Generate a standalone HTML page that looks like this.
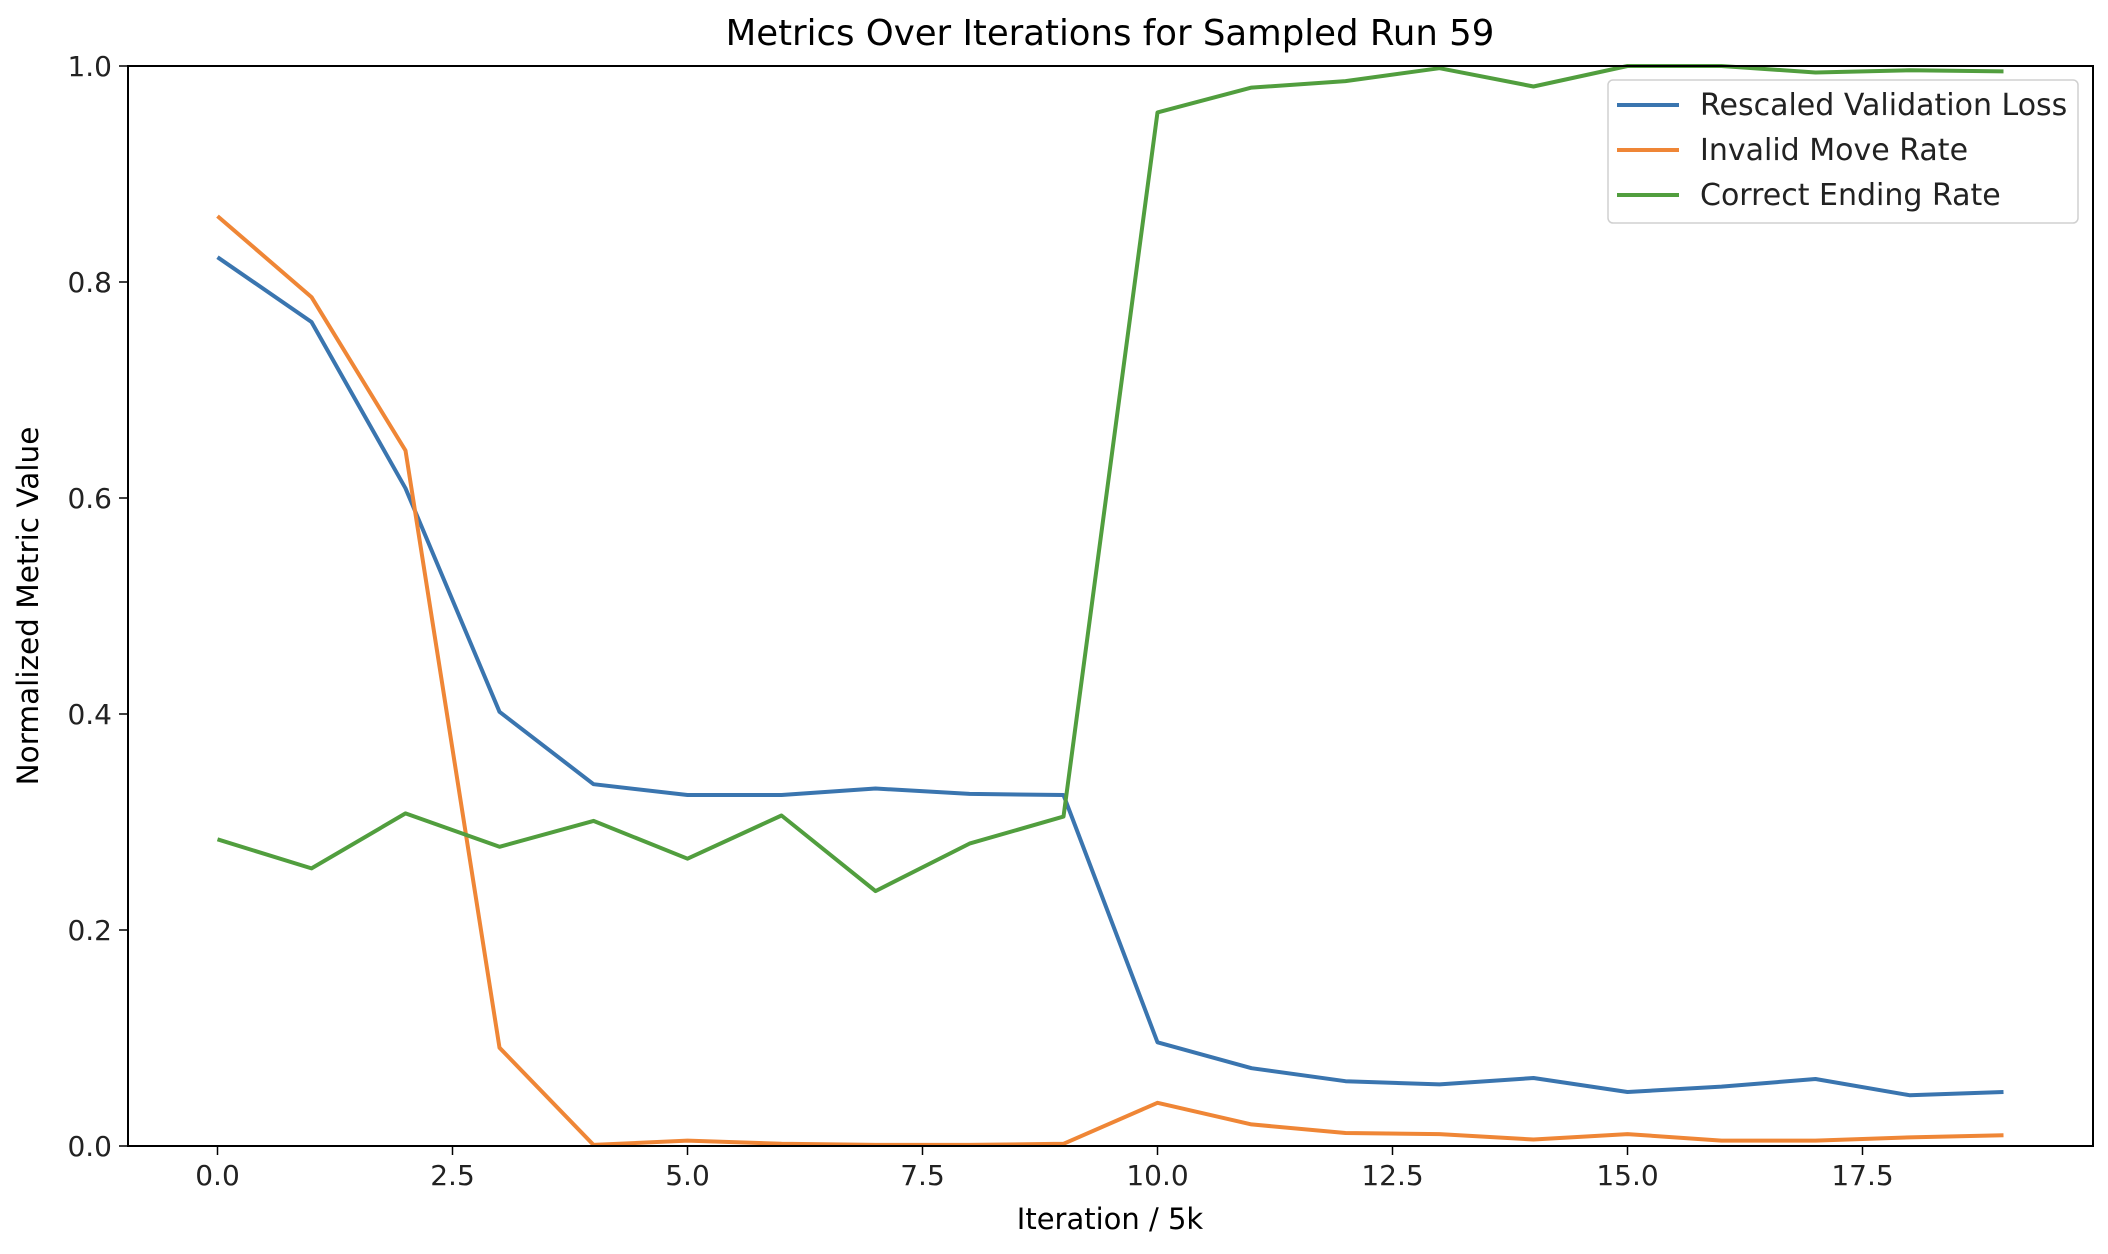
<!DOCTYPE html>
<html><head><meta charset="utf-8">
<style>
html,body{margin:0;padding:0;background:#fff;}
svg{display:block;font-family:"DejaVu Sans","Liberation Sans",sans-serif;}
</style></head>
<body>
<svg id="chart" width="2108" height="1254" viewBox="0 0 2108 1254">
  <text x="1110" y="45" font-size="35.5" text-anchor="middle" fill="#000">Metrics Over Iterations for Sampled Run 59</text>
  <g id="xticks"></g>
  <g id="yticks"></g>
  <g id="lines"></g>
  <rect x="128" y="66" width="1965" height="1080" fill="none" stroke="#000" stroke-width="2"/>
  <text x="1110" y="1229" font-size="29" text-anchor="middle" fill="#000">Iteration / 5k</text>
  <text transform="translate(38,606) rotate(-90)" font-size="29.5" text-anchor="middle" fill="#000">Normalized Metric Value</text>
  <g>
    <rect x="1608" y="80" width="470" height="143" rx="5" fill="#fff" fill-opacity="0.8" stroke="#d0d0d0" stroke-width="1.5"/>
    <line x1="1617" y1="105" x2="1679" y2="105" stroke="#3a75af" stroke-width="4"/>
    <text x="1700" y="115" font-size="30" fill="#222">Rescaled Validation Loss</text>
    <line x1="1617" y1="150" x2="1679" y2="150" stroke="#ef8636" stroke-width="4"/>
    <text x="1700" y="160" font-size="30" fill="#222">Invalid Move Rate</text>
    <line x1="1617" y1="195" x2="1679" y2="195" stroke="#519e3e" stroke-width="4"/>
    <text x="1700" y="205" font-size="30" fill="#222">Correct Ending Rate</text>
  </g>
</svg>
<script>
const iterations = [0,1,2,3,4,5,6,7,8,9,10,11,12,13,14,15,16,17,18,19];
const lossValues = [0.823,0.763,0.609,0.402,0.335,0.325,0.325,0.331,0.326,0.325,0.096,0.072,0.060,0.057,0.063,0.050,0.055,0.062,0.047,0.050];
const invalidValues = [0.861,0.786,0.644,0.091,0.001,0.005,0.002,0.001,0.001,0.002,0.040,0.020,0.012,0.011,0.006,0.011,0.005,0.005,0.008,0.010];
const correctValues = [0.284,0.257,0.308,0.277,0.301,0.266,0.306,0.236,0.280,0.305,0.957,0.980,0.986,0.998,0.981,1.0,1.0,0.994,0.996,0.995];
const xTickValues = [0,2.5,5,7.5,10,12.5,15,17.5];
const xTickLabels = ["0.0","2.5","5.0","7.5","10.0","12.5","15.0","17.5"];
const yTickValues = [0,0.2,0.4,0.6,0.8,1.0];
const yTickLabels = ["0.0","0.2","0.4","0.6","0.8","1.0"];

const NS = "http://www.w3.org/2000/svg";
const plot = {left:128,right:2093,top:66,bottom:1146};
function xScale(v){ return 217.5 + v*94; }
function yScale(v){ return plot.bottom - v*(plot.bottom-plot.top); }
function mk(tag, attrs){ const e=document.createElementNS(NS,tag); for(const k in attrs) e.setAttribute(k,attrs[k]); return e; }

const xg = document.getElementById('xticks');
xTickValues.forEach((v,i)=>{
  const x = xScale(v);
  const t = mk('line',{x1:x,y1:plot.bottom,x2:x,y2:plot.bottom+9,stroke:'#000','stroke-width':1.5});
  
  
  xg.appendChild(t);
  const l = mk('text',{x:x,y:plot.bottom+39,'font-size':28,'text-anchor':'middle',fill:'#222'});
  l.textContent = xTickLabels[i];
  
  
  xg.appendChild(l);
});
const yg = document.getElementById('yticks');
yTickValues.forEach((v,i)=>{
  const y = yScale(v);
  const t = mk('line',{x1:plot.left-9,y1:y,x2:plot.left,y2:y,stroke:'#000','stroke-width':1.5});
  
  
  yg.appendChild(t);
  const l = mk('text',{x:plot.left-16,y:y+10,'font-size':28,'text-anchor':'end',fill:'#222'});
  l.textContent = yTickLabels[i];
  
  
  yg.appendChild(l);
});
const lg = document.getElementById('lines');
function drawSeries(vals,color,name){
  const d = vals.map((v,i)=>(i?'L':'M')+xScale(iterations[i]).toFixed(1)+' '+yScale(v).toFixed(1)).join(' ');
  const p = mk('path',{d:d,fill:'none',stroke:color,'stroke-width':4,'stroke-linejoin':'round'});
  
  
  lg.appendChild(p);
}
drawSeries(lossValues,'#3a75af','line-rescaled-validation-loss');
drawSeries(invalidValues,'#ef8636','line-invalid-move-rate');
drawSeries(correctValues,'#519e3e','line-correct-ending-rate');
</script>
</body></html>
